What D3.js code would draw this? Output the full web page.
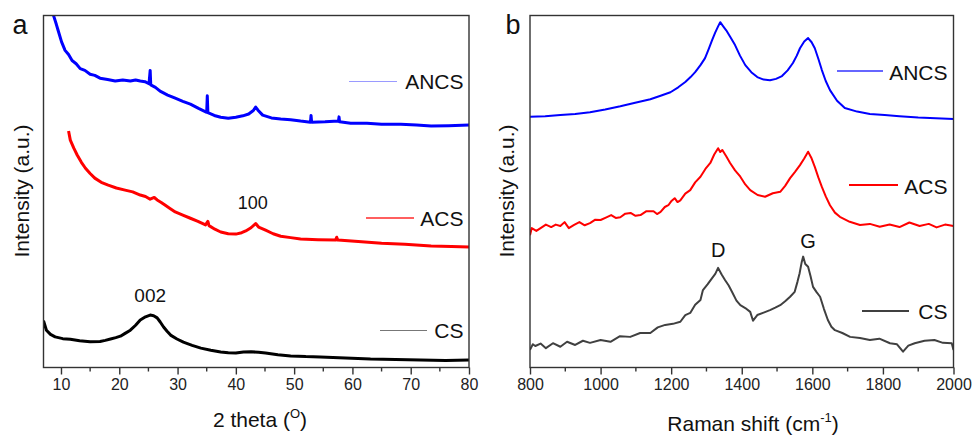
<!DOCTYPE html>
<html>
<head>
<meta charset="utf-8">
<script src="https://cdn.jsdelivr.net/npm/d3@7"></script>
<style>
  body { margin: 0; background: #fff; }
  svg { display: block; font-family: "Liberation Sans", Arial, sans-serif; }
</style>
</head>
<body>
<div id="chart"></div>
<script>
// ---- panel a : XRD, 2 theta (deg) vs intensity (a.u.) ----
const xrdTicks = [10, 20, 30, 40, 50, 60, 70, 80];
const xrdMinor = [15, 25, 35, 45, 55, 65, 75];

const xrdANCS = [
  [8.0, 107.2], [8.7, 100.1], [9.2, 97.5], [9.5, 95.8], [10.1, 92.5], [10.7, 90.1], [11.3, 88.9],
  [11.9, 87.2], [12.6, 86.3], [13.3, 84.9], [14.1, 84.4], [15.0, 83.3], [15.8, 83.0], [16.7, 82.2],
  [18.0, 81.8], [19.3, 81.4], [20.6, 81.7], [21.9, 81.4], [22.8, 81.7], [23.6, 81.4], [24.4, 81.2],
  [25.1, 80.6], [25.3, 84.4], [25.4, 80.3], [26.2, 79.6], [27.0, 78.5], [28.3, 77.4], [29.6, 76.5],
  [30.9, 75.6], [32.2, 74.8], [33.6, 73.6], [35.0, 72.5], [35.1, 77.2], [35.2, 72.4], [36.3, 71.6],
  [37.4, 71.1], [38.7, 70.8], [40.0, 71.1], [41.2, 71.5], [42.2, 72.0], [43.0, 73.0], [43.4, 74.0],
  [43.8, 73.1], [44.6, 71.7], [46.1, 70.9], [47.7, 70.6], [49.4, 70.4], [51.1, 70.0], [52.8, 69.7],
  [52.9, 71.6], [53.0, 69.7], [55.3, 69.8], [57.6, 70.0], [57.7, 71.2], [57.8, 69.8], [59.7, 69.4],
  [62.5, 69.4], [65.0, 69.1], [68.3, 69.1], [71.0, 68.9], [73.5, 68.6], [76.5, 68.7], [80.0, 68.9]
];

const xrdACS = [
  [11.3, 67.2], [11.6, 64.6], [12.2, 62.3], [12.8, 60.3], [13.5, 58.3], [14.2, 56.6], [15.0, 55.1],
  [15.8, 53.8], [16.9, 52.6], [18.1, 51.8], [19.5, 51.0], [21.0, 50.4], [22.3, 49.9], [23.6, 49.0],
  [24.5, 48.6], [25.3, 47.8], [26.0, 48.3], [26.5, 47.6], [27.2, 46.9], [27.9, 46.1], [28.7, 45.2],
  [29.6, 44.2], [30.9, 43.3], [32.2, 42.4], [33.5, 41.5], [34.8, 40.5], [35.2, 41.5], [35.4, 40.3],
  [36.4, 39.3], [37.4, 38.5], [38.7, 38.0], [40.0, 37.9], [41.0, 38.3], [41.7, 38.8], [42.6, 39.7],
  [43.4, 40.9], [43.9, 39.9], [45.1, 39.0], [46.4, 38.0], [47.7, 37.3], [49.4, 36.9], [51.1, 36.5],
  [54.1, 36.3], [57.1, 36.2], [57.3, 37.0], [57.5, 36.2], [61.0, 35.8], [65.0, 35.3], [69.0, 35.0],
  [73.5, 34.5], [77.0, 34.4], [80.0, 34.2]
];

const xrdCS = [
  [7.0, 13.3], [7.5, 10.6], [8.2, 9.4], [9.0, 8.7], [10.3, 8.2], [11.6, 8.0], [13.2, 7.6],
  [15.0, 7.3], [16.7, 7.4], [17.6, 7.7], [18.5, 8.1], [19.4, 8.5], [20.2, 8.9], [21.0, 9.7],
  [21.9, 10.6], [22.8, 12.0], [23.6, 13.5], [24.5, 14.4], [25.3, 14.9], [25.9, 14.7], [26.5, 14.1],
  [27.0, 13.0], [27.6, 11.5], [28.2, 10.3], [28.8, 9.2], [29.9, 8.1], [31.0, 7.2], [32.5, 6.3],
  [34.0, 5.5], [35.7, 4.9], [37.4, 4.4], [38.7, 4.2], [40.0, 4.1], [41.3, 4.4], [42.6, 4.5],
  [43.9, 4.3], [45.1, 4.1], [47.2, 3.6], [49.4, 3.3], [52.0, 3.1], [54.5, 3.0], [58.8, 2.7],
  [63.1, 2.4], [67.4, 2.3], [71.7, 2.1], [76.0, 2.0], [80.0, 2.1]
];

// ---- panel b : Raman, shift (cm-1) vs intensity (a.u.) ----
const ramanTicks = [800, 1000, 1200, 1400, 1600, 1800, 2000];
const ramanMinor = [900, 1100, 1300, 1500, 1700, 1900];

const ramanANCS = [
  [800, 71.2], [843, 71.4], [886, 71.7], [928, 72.0], [970, 72.5], [1013, 73.3], [1056, 74.2],
  [1098, 75.2], [1141, 76.2], [1170, 77.2], [1198, 78.2], [1220, 79.6], [1240, 81.1], [1255, 82.5],
  [1268, 83.9], [1283, 85.9], [1296, 87.9], [1306, 90.4], [1316, 93.0], [1325, 95.2], [1333, 96.9],
  [1339, 98.1], [1347, 97.0], [1356, 95.8], [1368, 93.8], [1381, 91.6], [1395, 88.6], [1410, 85.9],
  [1427, 83.9], [1444, 82.5], [1462, 81.8], [1480, 81.6], [1497, 82.0], [1514, 82.8], [1530, 84.4],
  [1545, 86.5], [1556, 88.6], [1565, 90.7], [1577, 92.6], [1588, 93.6], [1598, 92.4], [1607, 90.7],
  [1617, 87.7], [1627, 84.5], [1638, 81.4], [1650, 78.8], [1670, 75.8], [1692, 73.7], [1727, 72.7],
  [1763, 72.0], [1805, 71.7], [1847, 71.4], [1900, 71.0], [1950, 70.8], [2000, 70.6]
];

const ramanACS = [
  [800, 37.6], [805, 39.6], [818, 38.8], [830, 39.6], [845, 40.6], [860, 39.9], [873, 40.6],
  [886, 40.2], [898, 41.3], [910, 39.6], [925, 40.5], [940, 41.3], [955, 40.4], [970, 41.0],
  [985, 42.0], [1000, 41.9], [1015, 42.6], [1030, 43.3], [1043, 42.5], [1056, 42.7], [1070, 43.7],
  [1085, 43.9], [1099, 43.1], [1113, 43.3], [1130, 44.4], [1150, 44.4], [1160, 43.6], [1170, 44.2],
  [1182, 45.6], [1192, 46.1], [1200, 47.2], [1210, 48.1], [1218, 47.0], [1226, 47.5], [1240, 49.4],
  [1254, 50.4], [1268, 52.6], [1283, 54.2], [1297, 56.4], [1311, 58.1], [1322, 60.5], [1333, 62.3],
  [1339, 61.2], [1345, 61.8], [1356, 60.0], [1367, 58.1], [1381, 56.0], [1396, 54.2], [1410, 52.0],
  [1424, 50.4], [1445, 49.0], [1466, 48.5], [1488, 49.5], [1509, 49.9], [1523, 51.6], [1537, 53.8],
  [1551, 55.6], [1565, 57.5], [1577, 59.4], [1588, 61.3], [1597, 59.6], [1607, 57.0], [1617, 54.0],
  [1627, 51.3], [1638, 48.6], [1650, 46.1], [1664, 44.0], [1678, 42.8], [1706, 41.4], [1735, 40.5],
  [1763, 40.8], [1791, 40.0], [1819, 40.6], [1847, 39.9], [1875, 41.2], [1904, 40.2], [1930, 40.8],
  [1952, 39.8], [1976, 40.6], [2000, 40.2]
];

const ramanCS = [
  [800, 5.0], [808, 6.6], [815, 6.1], [830, 6.8], [845, 5.5], [865, 6.9], [886, 5.9], [905, 7.3],
  [928, 6.4], [950, 7.6], [970, 7.0], [1000, 7.8], [1028, 7.3], [1055, 8.9], [1084, 8.7], [1112, 9.8],
  [1141, 9.8], [1162, 11.4], [1183, 12.1], [1205, 12.4], [1226, 13.0], [1240, 14.9], [1254, 15.5],
  [1268, 17.8], [1283, 19.2], [1290, 22.0], [1303, 23.6], [1316, 25.4], [1325, 26.6], [1333, 28.3],
  [1343, 26.4], [1353, 24.8], [1363, 23.3], [1373, 21.4], [1385, 19.0], [1396, 17.7], [1410, 16.9],
  [1424, 15.8], [1432, 13.3], [1444, 14.9], [1462, 15.6], [1480, 16.3], [1495, 17.0], [1509, 17.7],
  [1523, 18.8], [1537, 20.1], [1550, 21.5], [1558, 24.4], [1564, 26.8], [1570, 30.0], [1574, 31.5],
  [1580, 29.4], [1588, 28.6], [1595, 25.9], [1602, 22.9], [1612, 21.4], [1622, 20.1], [1633, 16.6],
  [1644, 13.5], [1654, 11.6], [1664, 10.6], [1685, 9.8], [1707, 8.7], [1735, 8.4], [1763, 7.8],
  [1790, 8.2], [1820, 6.9], [1840, 6.6], [1857, 4.5], [1872, 6.2], [1890, 6.9], [1918, 7.6],
  [1946, 7.8], [1970, 7.0], [1995, 6.9], [2000, 5.0]
];

const W = 974, H = 435;
const plotTop = 15.5, plotBottom = 367.5;

const svg = d3.select("#chart").append("svg")
  .attr("width", W)
  .attr("height", H);

function drawPanel(p) {
  const x = d3.scaleLinear().domain(p.xDomain).range([p.left, p.right]);
  const y = d3.scaleLinear().domain([0, 100]).range([plotBottom, plotTop]);

  const g = svg.append("g");

  g.append("clipPath").attr("id", "clip-" + p.id)
    .append("rect")
    .attr("x", p.left).attr("y", plotTop)
    .attr("width", p.right - p.left).attr("height", plotBottom - plotTop);

  const line = d3.line().x(d => x(d[0])).y(d => y(d[1]));

  p.series.forEach(s => {
    g.append("path")
      .datum(s.data)
      .attr("clip-path", "url(#clip-" + p.id + ")")
      .attr("fill", "none")
      .attr("stroke", s.color)
      .attr("stroke-width", p.lineWidth)
      .attr("stroke-linejoin", "round")
      .attr("d", line);

    // legend
    g.append("line")
      .attr("x1", s.legend[0]).attr("x2", s.legend[1])
      .attr("y1", s.legend[2]).attr("y2", s.legend[2])
      .attr("stroke", s.legendColor)
      .attr("stroke-width", s.legendWidth);
    g.append("text")
      .attr("x", p.legendRight)
      .attr("y", s.legend[3])
      .attr("text-anchor", "end")
      .attr("font-size", 21)
      .attr("fill", "#111")
      .text(s.name);
  });

  // peak labels
  p.notes.forEach(n => {
    g.append("text")
      .attr("x", x(n.x))
      .attr("y", n.y)
      .attr("text-anchor", "middle")
      .attr("font-size", n.size)
      .attr("fill", "#111")
      .text(n.text);
  });

  // frame
  g.append("rect")
    .attr("x", p.left).attr("y", plotTop)
    .attr("width", p.right - p.left).attr("height", plotBottom - plotTop)
    .attr("fill", "none")
    .attr("stroke", "#333")
    .attr("stroke-width", 1.4);

  // x axis, major + minor ticks
  const ax = g.append("g")
    .attr("transform", "translate(0," + plotBottom + ")")
    .call(d3.axisBottom(x).tickValues(p.ticks).tickFormat(d3.format("d"))
      .tickSize(7).tickSizeOuter(0).tickPadding(4));
  ax.select(".domain").remove();
  ax.selectAll("line").attr("stroke", "#333").attr("stroke-width", 1.4);
  ax.selectAll("text")
    .attr("font-size", 16)
    .attr("fill", "#222")
    .attr("font-family", "Liberation Sans, Arial, sans-serif");

  g.append("g")
    .selectAll("line")
    .data(p.minor)
    .enter()
    .append("line")
    .attr("x1", d => x(d)).attr("x2", d => x(d))
    .attr("y1", plotBottom).attr("y2", plotBottom + 4)
    .attr("stroke", "#333")
    .attr("stroke-width", 1.4);

  // axis titles
  const xt = g.append("text")
    .attr("x", p.titleX)
    .attr("y", p.titleY)
    .attr("text-anchor", "middle")
    .attr("font-size", 21)
    .attr("fill", "#111");
  xt.append("tspan").text(p.xTitle[0]);
  xt.append("tspan").attr("font-size", 13).attr("dy", -9).text(p.xTitle[1]);
  xt.append("tspan").attr("dy", 9).text(p.xTitle[2]);

  g.append("text")
    .attr("transform", "translate(" + p.yTitleX + ",191) rotate(-90)")
    .attr("text-anchor", "middle")
    .attr("font-size", 21)
    .attr("fill", "#111")
    .text("Intensity (a.u.)");

  g.append("text")
    .attr("x", p.tagX)
    .attr("y", 34)
    .attr("text-anchor", "middle")
    .attr("font-size", 27)
    .attr("fill", "#111")
    .text(p.id);
}

drawPanel({
  id: "a",
  left: 43.5, right: 469,
  xDomain: [7, 80],
  ticks: xrdTicks, minor: xrdMinor,
  lineWidth: 3,
  legendRight: 463.5,
  series: [
    {name: "ANCS", data: xrdANCS, color: "#0000ff", legendColor: "#9a9aff", legendWidth: 1.2, legend: [349, 397, 81.5, 89]},
    {name: "ACS", data: xrdACS, color: "#ff0000", legendColor: "#ff2a2a", legendWidth: 1.6, legend: [366, 414, 218, 226]},
    {name: "CS", data: xrdCS, color: "#000000", legendColor: "#777", legendWidth: 1.1, legend: [380, 427, 330.5, 338]}
  ],
  notes: [
    {text: "100", x: 42.9, y: 209, size: 18},
    {text: "002", x: 25.3, y: 301.5, size: 19}
  ],
  xTitle: ["2 theta (", "O", ")"],
  titleX: 260, titleY: 427,
  yTitleX: 29,
  tagX: 20
});

drawPanel({
  id: "b",
  left: 530, right: 953.5,
  xDomain: [800, 2000],
  ticks: ramanTicks, minor: ramanMinor,
  lineWidth: 2,
  legendRight: 947.5,
  series: [
    {name: "ANCS", data: ramanANCS, color: "#0000ff", legendColor: "#6666ff", legendWidth: 1.8, legend: [837, 883, 71, 79.5]},
    {name: "ACS", data: ramanACS, color: "#ff0000", legendColor: "#ff0000", legendWidth: 2, legend: [849, 898, 185, 193.5]},
    {name: "CS", data: ramanCS, color: "#404040", legendColor: "#404040", legendWidth: 2, legend: [862, 909, 311, 318.5]}
  ],
  notes: [
    {text: "D", x: 1333, y: 257, size: 20},
    {text: "G", x: 1588, y: 248, size: 20}
  ],
  xTitle: ["Raman shift (cm", "-1", ")"],
  titleX: 753, titleY: 431,
  yTitleX: 514,
  tagX: 513
});
</script>
</body>
</html>
